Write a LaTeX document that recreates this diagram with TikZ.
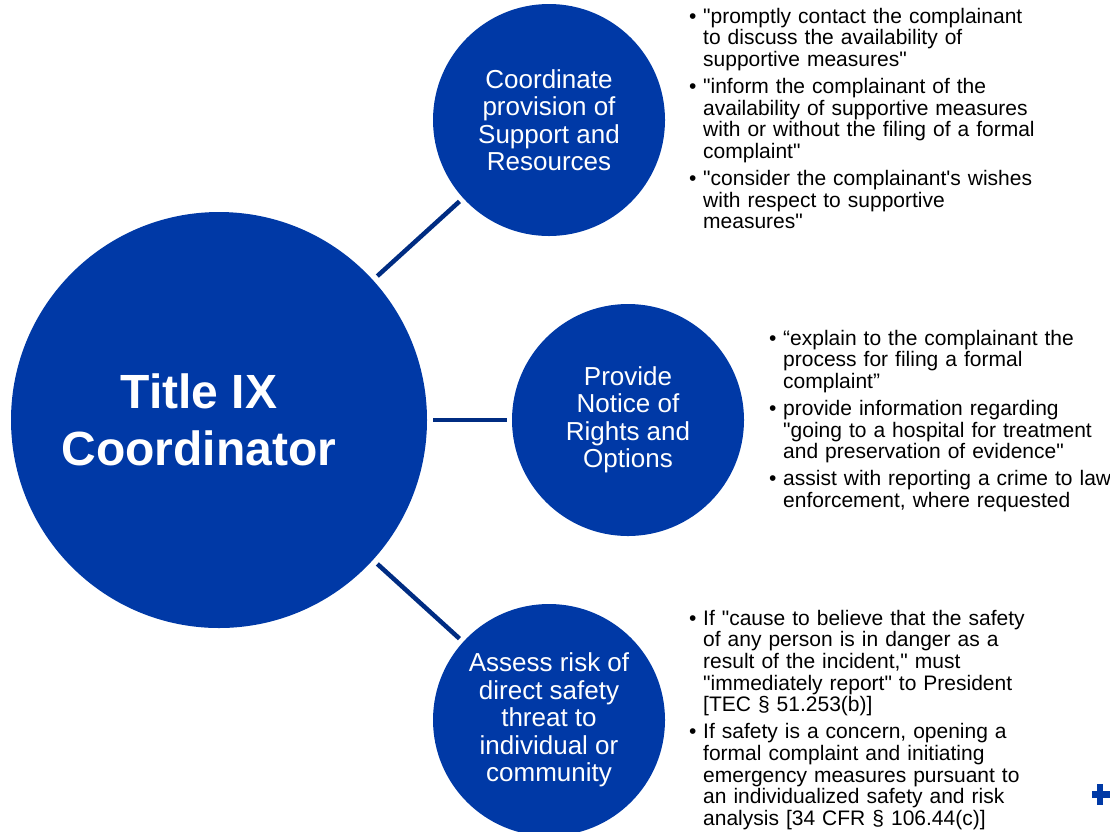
\documentclass[tikz,border=0pt]{standalone}
\usepackage{fontspec}
\setmainfont{Liberation Sans}
\definecolor{tixblue}{HTML}{0039A6}
\definecolor{tixline}{HTML}{002C82}
\newcommand{\q}{\textquotedbl}
\newcommand{\bitem}[1]{{\hangindent=14pt\hangafter=1\noindent\makebox[14pt][l]{\textbullet}#1\par}}
\begin{document}
\begin{tikzpicture}[x=1pt,y=-1pt,
	hub/.style={circle,fill=tixblue,inner sep=0pt,outer sep=0pt,text=white,align=center},
	spoke/.style={hub,minimum size=232pt,font=\fontsize{26}{27.5}\selectfont},
	link/.style={draw=tixline,line width=4.5pt,shorten <=6pt,shorten >=5pt},
	bullets/.style={anchor=base west,text width=420pt,align=left,inner sep=0pt,
		font=\fontsize{21}{21.7}\selectfont,execute at begin node={\setlength\parskip{5.3pt}}}]
	\useasboundingbox (0,0) rectangle (1110,831);
	\node[hub,minimum size=416pt] (coord) at (219,420) {};
	\node[text=white,align=center,font=\fontsize{48}{57}\selectfont\bfseries] (coordtxt) at (199,420) {Title IX\\Coordinator};
	\node[spoke] (support) at (549,120) {Coordinate\\provision of\\Support and\\Resources};
	\node[spoke] (notice) at (628,420) {Provide\\Notice of\\Rights and\\Options};
	\node[spoke] (risk) at (549,720) {Assess risk of\\direct safety\\threat to\\individual or\\community};
	\draw[link] (coord) -- (support);
	\draw[link] (coord) -- (notice);
	\draw[link] (coord) -- (risk);
	\node[bullets] (supportlist) at (689,23) {%
		\bitem{\q promptly contact the complainant\newline to discuss the availability of\newline supportive measures\q}
		\bitem{\q inform the complainant of the\newline availability of supportive measures\newline with or without the filing of a formal\newline complaint\q}
		\bitem{\q consider the complainant\textquotesingle s wishes\newline with respect to supportive\newline measures\q}};
	\node[bullets] (noticelist) at (769,345) {%
		\bitem{“explain to the complainant the\newline process for filing a formal\newline complaint”}
		\bitem{provide information regarding\newline \q going to a hospital for treatment\newline and preservation of evidence\q}
		\bitem{assist with reporting a crime to law\newline enforcement, where requested}};
	\node[bullets] (risklist) at (689,625) {%
		\bitem{If \q cause to believe that the safety\newline of any person is in danger as a\newline result of the incident,\q{} must\newline \q immediately report\q{} to President\newline [TEC § 51.253(b)]}
		\bitem{If safety is a concern, opening a\newline formal complaint and initiating\newline emergency measures pursuant to\newline an individualized safety and risk\newline analysis [34 CFR § 106.44(c)]}};
	% logo corner
	\fill[tixblue] (1092,791) rectangle (1112,798);
	\fill[tixblue] (1097,784) rectangle (1103,805);
\end{tikzpicture}
\end{document}
